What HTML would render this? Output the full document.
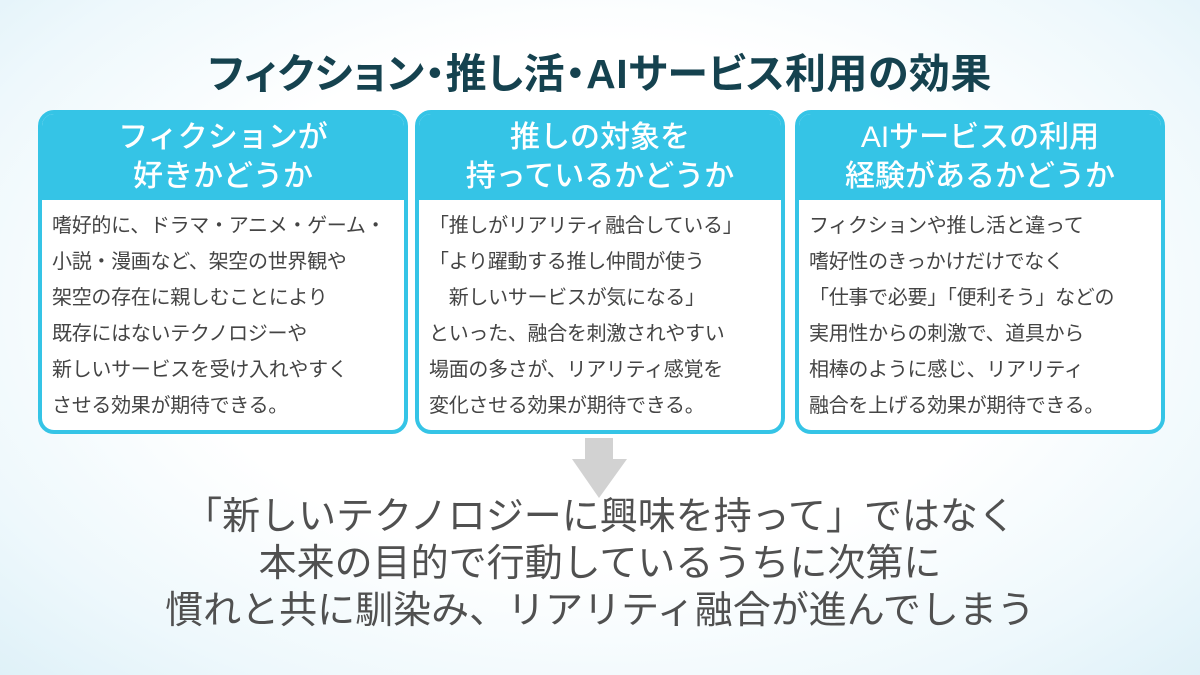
<!DOCTYPE html>
<html><head><meta charset="utf-8"><style>
body{margin:0;width:1200px;height:675px;overflow:hidden;font-family:"Liberation Sans","Noto Sans CJK JP",sans-serif;background:radial-gradient(ellipse at 50% 45%,#ffffff 0%,#ffffff 50%,#eef8fc 80%,#dff1f8 100%);position:relative}
.t{position:absolute;left:0;width:1200px;top:49px;text-align:center;font-size:41px;font-weight:bold;color:#15424f;line-height:50px;font-feature-settings:"palt";letter-spacing:0.5px}
.box{position:absolute;top:110px;width:362px;height:316px;border:4px solid #35c4e6;border-radius:16px;background:#fff;overflow:hidden}
.h{background:#35c4e6;color:#fff;text-align:center;font-size:30px;line-height:39px;height:82px;padding-top:4px;font-weight:500}
.b{font-size:20px;line-height:36px;color:#444;padding:8px 0 0 10px;white-space:pre;letter-spacing:-0.3px}
.bot{position:absolute;left:0;width:1200px;top:494px;text-align:center;font-size:38px;line-height:47px;color:#505050}
</style></head><body>
<div class="t">フィクション・推し活・AIサービス利用の効果</div>
<div class="box" style="left:38px"><div class="h">フィクションが<br>好きかどうか</div><div class="b">嗜好的に、ドラマ・アニメ・ゲーム・
小説・漫画など、架空の世界観や
架空の存在に親しむことにより
既存にはないテクノロジーや
新しいサービスを受け入れやすく
させる効果が期待できる。</div></div>
<div class="box" style="left:415px"><div class="h">推しの対象を<br>持っているかどうか</div><div class="b">「推しがリアリティ融合している」
「より躍動する推し仲間が使う
　新しいサービスが気になる」
といった、融合を刺激されやすい
場面の多さが、リアリティ感覚を
変化させる効果が期待できる。</div></div>
<div class="box" style="left:795px"><div class="h">AIサービスの利用<br>経験があるかどうか</div><div class="b">フィクションや推し活と違って
嗜好性のきっかけだけでなく
「仕事で必要」「便利そう」などの
実用性からの刺激で、道具から
相棒のように感じ、リアリティ
融合を上げる効果が期待できる。</div></div>
<svg style="position:absolute;left:0;top:0" width="1200" height="675"><polygon points="585,438 613,438 613,459 627,459 599,498 572,459 585,459" fill="#d2d2d2"/></svg>
<div class="bot">「新しいテクノロジーに興味を持って」ではなく<br>本来の目的で行動しているうちに次第に<br>慣れと共に馴染み、リアリティ融合が進んでしまう</div>
</body></html>
